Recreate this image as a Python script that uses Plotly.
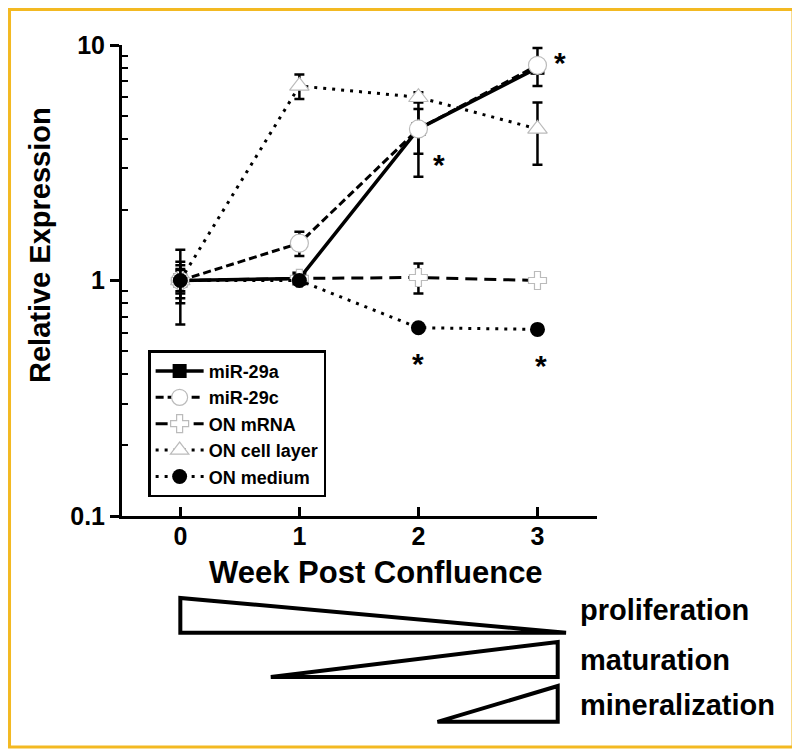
import plotly.graph_objects as go
import numpy as np

weeks = [0, 1, 2, 3]

mir29a = [1.0, 1.02, 4.4, 8.0]
mir29a_err = [0.16, 0.04, 0.95, 0.4]

mir29c = [1.0, 1.44, 4.4, 8.2]
mir29c_err = [0.1, 0.17, 1.64, 1.5]

on_mrna = [1.0, 1.02, 1.03, 1.0]
on_mrna_err = [0.2, 0.05, 0.15, 0.02]

on_cell = [1.0, 6.7, 6.0, 4.4]
on_cell_err = [0.12, 0.8, 0.3, 1.3]

on_medium = [1.0, 1.0, 0.63, 0.62]
on_medium_err = [0.35, 0.03, 0.02, 0.02]

# significance asterisks (x week, y value)
star_x = [2.17, 3.19, 2.0, 3.03]
star_y = [3.3, 8.9, 0.47, 0.46]

# developmental phases
phase_names = ["proliferation", "maturation", "mineralization"]
phase_wide = [0.0, 3.17, 3.17]      # week of the tall edge
phase_tip = [3.24, 0.76, 2.16]      # week of the tip

FONT = "Liberation Sans, Arial, sans-serif"

fig = go.Figure()

def err(v):
    return dict(type="data", array=v, visible=True, color="black", thickness=2.5, width=5)

fig.add_trace(go.Scatter(
    x=weeks, y=mir29a, name="<b>miR-29a</b>", mode="lines+markers",
    line=dict(color="black", width=3.5),
    marker=dict(symbol="square", size=14, color="black"),
    error_y=err(mir29a_err), legendrank=1))
fig.add_trace(go.Scatter(
    x=weeks, y=mir29c, name="<b>miR-29c</b>", mode="lines+markers",
    line=dict(color="black", width=3, dash="8px,4px"),
    marker=dict(symbol="circle", size=18, color="white", line=dict(color="#bbbbbb", width=1.2)),
    error_y=err(mir29c_err), legendrank=2))
fig.add_trace(go.Scatter(
    x=weeks, y=on_mrna, name="<b>ON mRNA</b>", mode="lines+markers",
    line=dict(color="black", width=3, dash="12px,7px"),
    marker=dict(symbol="cross", size=15, color="white", line=dict(color="#bbbbbb", width=1.2)),
    error_y=err(on_mrna_err), legendrank=3))
fig.add_trace(go.Scatter(
    x=weeks, y=on_cell, name="<b>ON cell layer</b>", mode="lines+markers",
    line=dict(color="black", width=3, dash="3px,6px"),
    marker=dict(symbol="triangle-up", size=17, color="white", line=dict(color="#bbbbbb", width=1.2)),
    error_y=err(on_cell_err), legendrank=4))
fig.add_trace(go.Scatter(
    x=weeks, y=on_medium, name="<b>ON medium</b>", mode="lines+markers",
    line=dict(color="black", width=3, dash="3px,6px"),
    marker=dict(symbol="circle", size=15, color="black"),
    error_y=err(on_medium_err), legendrank=5))

annotations = []
for sx, sy in zip(star_x, star_y):
    annotations.append(dict(x=sx, y=np.log10(sy), xref="x", yref="y", text="<b>*</b>",
                            showarrow=False, yshift=-6,
                            font=dict(family=FONT, size=30, color="black")))

annotations.append(dict(x=0.535, y=-0.121, xref="paper", yref="paper",
                        xanchor="center", yanchor="middle",
                        text="<b>Week Post Confluence</b>", showarrow=False,
                        font=dict(family=FONT, size=31, color="black")))
annotations.append(dict(x=-0.173, y=0.575, xref="paper", yref="paper",
                        xanchor="center", yanchor="middle",
                        text="<b>Relative Expression</b>", textangle=-90, showarrow=False,
                        font=dict(family=FONT, size=29, color="black")))

shapes = []
bands = [(-0.174, -0.248), (-0.2675, -0.342), (-0.361, -0.437)]
label_y = [-0.2, -0.306, -0.402]
for name, wide, tip, (top, bot), ly in zip(phase_names, phase_wide, phase_tip, bands, label_y):
    path = f"M {wide} {top} L {wide} {bot} L {tip} {bot} Z"
    shapes.append(dict(type="path", path=path, xref="x", yref="paper",
                       line=dict(color="black", width=4), fillcolor="white"))
    annotations.append(dict(x=0.96, y=ly, xref="paper", yref="paper",
                            xanchor="left", yanchor="middle",
                            text="<b>" + name + "</b>", showarrow=False,
                            font=dict(family=FONT, size=29, color="black")))

# frame
shapes.append(dict(type="rect", xref="paper", yref="paper",
                   x0=-0.2368, x1=1.4126, y0=-0.4904, y1=1.0754,
                   line=dict(color="#F3B922", width=3)))

fig.update_layout(
    width=800, height=753,
    margin=dict(l=114, r=211, t=37, b=245),
    paper_bgcolor="white", plot_bgcolor="white",
    font=dict(family=FONT, color="black"),
    showlegend=True,
    legend=dict(x=0.055, y=0.352, xanchor="left", yanchor="top",
                bgcolor="white", bordercolor="black", borderwidth=2.5,
                font=dict(family=FONT, size=18, color="black"),
                itemwidth=48, tracegroupgap=0),
    annotations=annotations, shapes=shapes,
    xaxis=dict(range=[-0.49, 3.5], tickvals=weeks, ticktext=["<b>0</b>", "<b>1</b>", "<b>2</b>", "<b>3</b>"],
               showline=True, linecolor="black", linewidth=3, ticks="inside", ticklen=9,
               tickwidth=2.5, tickcolor="black", showgrid=False, zeroline=False,
               ticklabelstandoff=-4,
               tickfont=dict(family=FONT, size=25, color="black")),
    yaxis=dict(type="log", range=[-1, 1], tickvals=[0.1, 1, 10],
               ticktext=["<b>0.1</b>", "<b>1</b>", "<b>10</b>"],
               showline=True, linecolor="black", linewidth=3, ticks="outside", ticklen=9,
               tickwidth=2.5, tickcolor="black", showgrid=False, zeroline=False,
               tickfont=dict(family=FONT, size=25, color="black"),
               minor=dict(ticks="inside", ticklen=6, tickwidth=2, tickcolor="black",
                          tickvals=[0.2, 0.3, 0.4, 0.5, 0.6, 0.7, 0.8, 0.9, 2, 3, 4, 5, 6, 7, 8, 9])),
)

fig.write_html("out.html")
